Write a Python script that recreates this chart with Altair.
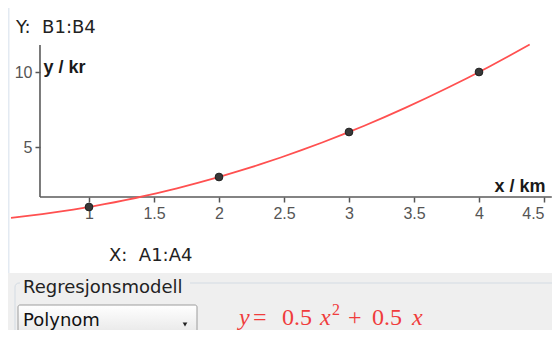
import altair as alt
import pandas as pd

# ---- data ----
x_values = [1, 2, 3, 4]
y_values = [1, 3, 6, 10]
x_ticks = [1, 1.5, 2, 2.5, 3, 3.5, 4, 4.5]
y_ticks = [5, 10]

# regression fit (poly order 2) is computed by Vega-Lite from the points
fit_extent = [0.4, 4.39]

# where the axes cross (GeoGebra style) and axis line extents, in data units
x_axis_at_y = 1.667
y_axis_at_x = 0.623
x_axis_end = 4.56
y_axis_top = 11.8

x_domain = [0.376923, 4.561538]
y_domain = [-7.2, 14.266667]

W, H = 544, 322

points = pd.DataFrame({"x": x_values, "y": y_values})

xs = alt.Scale(domain=x_domain, nice=False, zero=False)
ys = alt.Scale(domain=y_domain, nice=False, zero=False)

X_AXIS = alt.Axis(
    orient="bottom", offset=-133, domain=False, grid=False, values=x_ticks,
    format=".1~f", tickSize=5, tickWidth=1.5, tickColor="#555555",
    labelPadding=3, labelFont="Liberation Sans", labelFontSize=16,
    labelColor="#555555", labelFlush=False, labelOverlap=False,
    labelAlign={"condition": {"test": "datum.value >= 4.5", "value": "right"},
                "value": "center"},
    title="x / km", titleX=537, titleY=-6, titleAngle=0, titleAlign="right",
    titleBaseline="alphabetic", titleFont="Liberation Sans", titleFontSize=18,
    titleFontWeight="bold", titleColor="#1a1a1a",
)
Y_AXIS = alt.Axis(
    orient="left", offset=-32, domain=False, grid=False, values=y_ticks,
    tickSize=5, tickWidth=1.5, tickColor="#555555", labelPadding=3,
    labelFont="Liberation Sans", labelFontSize=16, labelColor="#555555",
    labelOverlap=False,
    title="y / kr", titleX=3, titleY=64, titleAngle=0, titleAlign="left",
    titleBaseline="alphabetic", titleFont="Liberation Sans", titleFontSize=18,
    titleFontWeight="bold", titleColor="#1a1a1a",
)

one = alt.Data(values=[{"k": 0}])


def box(x, x2, y, y2, **kw):
    return alt.Chart(one).mark_rect(**kw).encode(
        x=alt.value(x), x2=alt.value(x2), y=alt.value(y), y2=alt.value(y2)
    )


def label(txt, x, y, **kw):
    return alt.Chart(alt.Data(values=[{"t": txt}])).mark_text(
        align="left", baseline="alphabetic", **kw
    ).encode(x=alt.value(x), y=alt.value(y), text="t:N")


# ---- UI decoration ----
left_line = box(0, 1.5, 0, 265, color="#e3eaf2")
panel = box(0, W, 265, H, color="#efefef")
group = box(7, 560, 275, 360, fill="#efefef", stroke="#d3dbe3", strokeWidth=1,
            cornerRadius=4)
group_lbl_bg = box(12, 182, 268, 292, color="#efefef")
dropdown = box(10, 189, 297, 345, stroke="#9c9c9c", strokeWidth=1, cornerRadius=2,
               color={"gradient": "linear", "x1": 0, "y1": 0, "x2": 0, "y2": 1,
                      "stops": [{"offset": 0, "color": "#ffffff"},
                                {"offset": 1, "color": "#d8d8d8"}]})
arrow = alt.Chart(one).mark_point(shape="triangle-down", filled=True, size=22,
                                  color="#222222", opacity=1).encode(
    x=alt.value(177), y=alt.value(316.5))

NB = "\u00a0"
txt_font = dict(font="DejaVu Sans", fontSize=18, color="#222222")
t_y = label("Y:" + NB + " B1:B4", 8, 25, **txt_font)
t_x = label("X:" + NB + " A1:A4", 101, 253, **txt_font)
t_reg = label("Regresjonsmodell", 15, 285, **txt_font)
t_poly = label("Polynom", 15, 318, font="DejaVu Sans", fontSize=18, color="#111111")

red = "#f03c3c"
serif = dict(font="Liberation Serif", fontSize=24, color=red)
BL = 317
formula = [
    label("y", 231, BL, fontStyle="italic", **serif),
    label("=", 245, BL, **serif),
    label("0.5", 274, BL, **serif),
    label("x", 312, BL, fontStyle="italic", **serif),
    label("2", 324, BL - 10, font="Liberation Serif", fontSize=16, color=red),
    label("+", 340, BL, **serif),
    label("0.5", 364, BL, **serif),
    label("x", 404, BL, fontStyle="italic", **serif),
]

# ---- axes lines ----
x_line = alt.Chart(alt.Data(values=[{"a": y_axis_at_x, "b": x_axis_end, "c": x_axis_at_y}])).mark_rule(
    color="#5a5a5a", strokeWidth=1.6).encode(
    x=alt.X("a:Q", scale=xs, axis=X_AXIS), x2="b:Q",
    y=alt.Y("c:Q", scale=ys, axis=Y_AXIS))
y_line = alt.Chart(alt.Data(values=[{"a": y_axis_at_x, "c": x_axis_at_y, "d": y_axis_top}])).mark_rule(
    color="#5a5a5a", strokeWidth=1.6).encode(
    x=alt.X("a:Q", scale=xs, axis=X_AXIS),
    y=alt.Y("c:Q", scale=ys, axis=Y_AXIS), y2="d:Q")

curve = alt.Chart(points).transform_regression(
    "x", "y", method="poly", order=2, extent=fit_extent
).mark_line(color="#ff5050", strokeWidth=1.8).encode(
    x=alt.X("x:Q", scale=xs, axis=X_AXIS),
    y=alt.Y("y:Q", scale=ys, axis=Y_AXIS))

dots = alt.Chart(points).mark_circle(size=60, color="#383838", opacity=1,
                                     stroke="#1e1e1e", strokeWidth=1).encode(
    x=alt.X("x:Q", scale=xs, axis=X_AXIS),
    y=alt.Y("y:Q", scale=ys, axis=Y_AXIS))

chart = alt.layer(
    left_line, panel, group, group_lbl_bg, dropdown, arrow,
    t_y, t_x, t_reg, t_poly, *formula,
    x_line, y_line, curve, dots,
).properties(
    width=W, height=H, autosize=alt.AutoSizeParams(type="none"), padding=0,
    background="white",
).configure_view(stroke=None)

chart.save("out.html", embed_options={"renderer": "svg", "actions": False})
